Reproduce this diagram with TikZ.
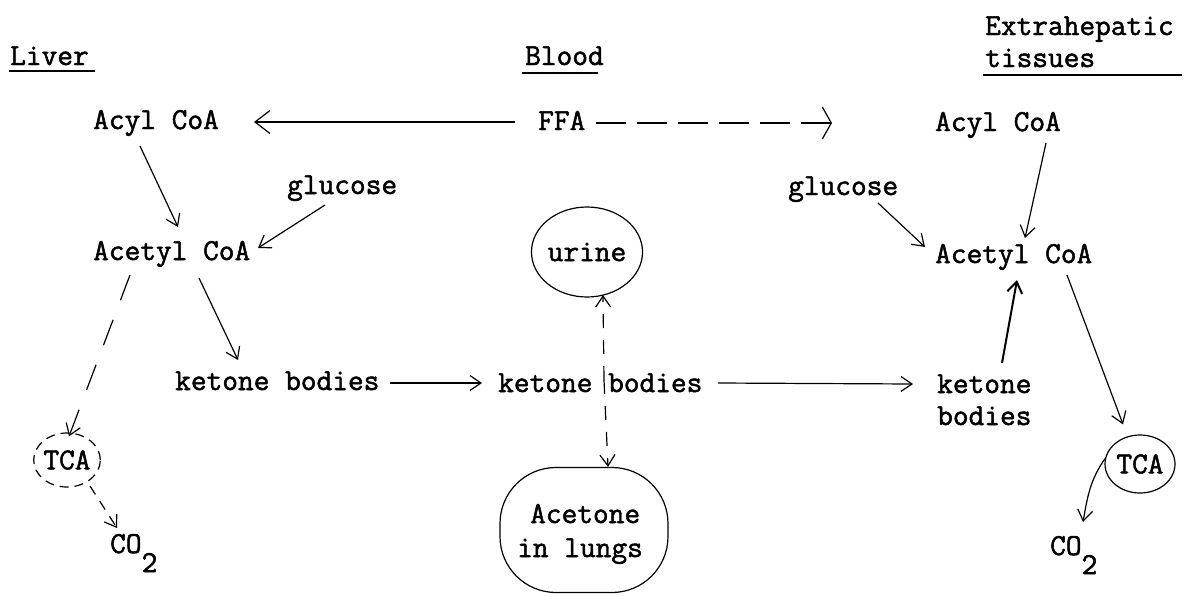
\documentclass[tikz,border=0pt]{standalone}
\usepackage{fontspec}
\newfontfamily\tw{Latin Modern Mono}[RawFeature={embolden=1.6}]
\usetikzlibrary{arrows.meta,shapes.geometric,calc}
\begin{document}
\begin{tikzpicture}[x=1pt,y=-1pt,
  txt/.style={font=\fontsize{30.5}{34}\selectfont\tw},
  lab/.style={txt, inner sep=0pt, anchor=base west},
  arr/.style={line width=1.2pt, -{Straight Barb[length=11pt,width=15pt]}},
  bigarr/.style={line width=1.2pt, -{Straight Barb[length=15pt,width=23pt]}},
  tallhead/.style={line width=1.2pt, {Straight Barb[length=9pt,width=32pt]}-},
  uline/.style={line width=1.8pt},
  blob/.style={draw, line width=1.2pt, ellipse, inner sep=0pt, txt}
]
\useasboundingbox[fill=white] (0,0) rectangle (1184,595);

% headings
\node[lab] (liver) at (10,65) {Liver};
\node[lab] (blood) at (525,65) {Blood};
\node[lab] (extra) at (985,35) {Extrahepatic};
\node[lab] (tissues) at (985,67) {tissues};
\draw[uline] ($(liver.base west)+(-1,6)$) -- ($(liver.base west)+(85,6)$);
\draw[uline] ($(blood.base west)+(-3,8)$) -- ($(blood.base west)+(73,8)$);
\draw[uline] ($(tissues.base west)+(-2,8)$) -- ($(tissues.base west)+(197,8)$);

% text nodes
\node[lab] (acylL) at (93,129) {Acyl CoA};
\node[lab] (ffa) at (538,130) {FFA};
\node[lab] (acylR) at (935,131) {Acyl CoA};
\node[lab] (glucL) at (287,194) {glucose};
\node[lab] (glucR) at (788,195) {glucose};
\node[lab] (acetL) at (93,260) {Acetyl CoA};
\node[lab] (acetR) at (935,263) {Acetyl CoA};
\node[lab] (ketL) at (175,390) {ketone bodies};
\node[lab] (ketM) at (498,392) {ketone bodies};
\node[lab] (ketR1) at (937,393) {ketone};
\node[lab] (ketR2) at (937,425) {bodies};
\node[lab] (co2L) at (110,553) {CO\raisebox{-19pt}{2}};
\node[lab] (co2R) at (1050,555) {CO\raisebox{-19pt}{2}};

% circled nodes
\node[blob, dash pattern=on 9pt off 6pt, minimum width=62pt, minimum height=54pt] (tcaL) at (67,460) {TCA};
\node[blob, minimum width=70pt, minimum height=58pt] (tcaR) at (1140,464) {TCA};
\node[blob, minimum width=104pt, minimum height=90pt] (urine) at (587,252) {urine};
\node[draw, line width=1.2pt, rectangle, rounded corners=56pt, minimum width=168pt, minimum height=125pt] (acetone) at (584,530) {};
\node[lab] (acet1) at (530,523) {Acetone};
\node[lab] (acet2) at (517,557) {in lungs};

% connectors
\draw[bigarr] ($(ffa.base west)+(-23,-8)$) -- ($(acylL.base west)+(161,-7)$);
\draw[tallhead, dash pattern=on 30pt off 11pt] ($(acylR.base west)+(-103,-8)$) -- ($(ffa.base west)+(58,-7)$);
\draw[arr] ($(acylL.base west)+(47,17)$) -- ($(acetL.base west)+(85,-33)$);
\draw[arr] ($(glucL.base west)+(38,11)$) -- ($(acetL.base west)+(165,-12)$);
\draw[arr] ($(acetL.base west)+(106,18)$) -- ($(ketL.base west)+(63,-30)$);
\draw[arr, dash pattern=on 27pt off 21pt] ($(acetL.base west)+(37,15)$) -- ($(tcaL.north)+(2,4)$);
\draw[arr, dash pattern=on 10pt off 8pt] ($(tcaL.center)+(23,26)$) -- ($(co2L.base west)+(7,-25)$);
\draw[arr] ($(ketL.base west)+(215,-7)$) -- ($(ketM.base west)+(-16,-9)$);
\draw[arr] ($(ketM.base west)+(220,-9)$) -- ($(ketR1.base west)+(-24,-9)$);
\draw[arr, dash pattern=on 14pt off 12pt] ($(ketM.base west)+(106,-12)$) -- ($(urine.center)+(16,43)$);
\draw[arr, dash pattern=on 14pt off 12pt] ($(ketM.base west)+(106,-12)$) -- ($(acetone.north)+(24,0)$);
\draw[arr] ($(glucR.base west)+(90,8)$) -- ($(acetR.base west)+(-10,-16)$);
\draw[arr] ($(acylR.base west)+(111,12)$) -- ($(acetR.base west)+(90,-25)$);
\draw[arr, line width=2pt] ($(ketR1.base west)+(65,-30)$) -- ($(acetR.base west)+(82,17)$);
\draw[arr] ($(acetR.base west)+(132,12)$) -- ($(tcaR.north)+(-17,-10)$);
\draw[arr] ($(tcaR.west)+(1,-6)$) to[out=235,in=80] ($(co2R.base west)+(33,-33)$);
\end{tikzpicture}
\end{document}
